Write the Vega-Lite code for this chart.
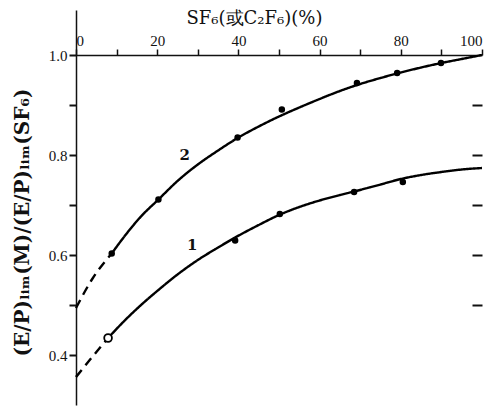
{
  "$schema": "https://vega.github.io/schema/vega-lite/v6.json",
  "width": 406,
  "height": 395,
  "autosize": {"type": "none"},
  "padding": {"left": 76, "top": 10, "right": 4, "bottom": 9},
  "background": "white",
  "config": {
    "view": {"stroke": null},
    "axis": {"grid": false, "labelFont": "Liberation Serif", "titleFont": "DejaVu Serif", "labelColor": "#111", "titleColor": "#111", "domainColor": "#111", "tickColor": "#111"}
  },
  "datasets": {
    "curves": [
      {"curve": "2", "style": "dash", "x": 0, "y": 0.494},
      {"curve": "2", "style": "dash", "x": 4, "y": 0.552},
      {"curve": "2", "style": "dash", "x": 8.8, "y": 0.603},
      {"curve": "2", "style": "solid", "x": 8.8, "y": 0.603},
      {"curve": "2", "style": "solid", "x": 12, "y": 0.638},
      {"curve": "2", "style": "solid", "x": 16, "y": 0.677},
      {"curve": "2", "style": "solid", "x": 20.3, "y": 0.711},
      {"curve": "2", "style": "solid", "x": 25, "y": 0.748},
      {"curve": "2", "style": "solid", "x": 30, "y": 0.781},
      {"curve": "2", "style": "solid", "x": 35, "y": 0.809},
      {"curve": "2", "style": "solid", "x": 39.8, "y": 0.834},
      {"curve": "2", "style": "solid", "x": 45, "y": 0.857},
      {"curve": "2", "style": "solid", "x": 50, "y": 0.877},
      {"curve": "2", "style": "solid", "x": 55, "y": 0.895},
      {"curve": "2", "style": "solid", "x": 60, "y": 0.912},
      {"curve": "2", "style": "solid", "x": 65, "y": 0.928},
      {"curve": "2", "style": "solid", "x": 70, "y": 0.942},
      {"curve": "2", "style": "solid", "x": 75, "y": 0.954},
      {"curve": "2", "style": "solid", "x": 80, "y": 0.965},
      {"curve": "2", "style": "solid", "x": 85, "y": 0.975},
      {"curve": "2", "style": "solid", "x": 90, "y": 0.984},
      {"curve": "2", "style": "solid", "x": 95, "y": 0.992},
      {"curve": "2", "style": "solid", "x": 100, "y": 1.0},
      {"curve": "1", "style": "dash", "x": 0, "y": 0.356},
      {"curve": "1", "style": "dash", "x": 4, "y": 0.396},
      {"curve": "1", "style": "dash", "x": 7.9, "y": 0.434},
      {"curve": "1", "style": "solid", "x": 7.9, "y": 0.434},
      {"curve": "1", "style": "solid", "x": 12, "y": 0.469},
      {"curve": "1", "style": "solid", "x": 17.4, "y": 0.51},
      {"curve": "1", "style": "solid", "x": 20, "y": 0.528},
      {"curve": "1", "style": "solid", "x": 25, "y": 0.561},
      {"curve": "1", "style": "solid", "x": 30, "y": 0.59},
      {"curve": "1", "style": "solid", "x": 35, "y": 0.615},
      {"curve": "1", "style": "solid", "x": 39.2, "y": 0.635},
      {"curve": "1", "style": "solid", "x": 45, "y": 0.66},
      {"curve": "1", "style": "solid", "x": 50, "y": 0.68},
      {"curve": "1", "style": "solid", "x": 55, "y": 0.696},
      {"curve": "1", "style": "solid", "x": 60, "y": 0.709},
      {"curve": "1", "style": "solid", "x": 65, "y": 0.72},
      {"curve": "1", "style": "solid", "x": 68.5, "y": 0.727},
      {"curve": "1", "style": "solid", "x": 75, "y": 0.741},
      {"curve": "1", "style": "solid", "x": 80, "y": 0.752},
      {"curve": "1", "style": "solid", "x": 85, "y": 0.76},
      {"curve": "1", "style": "solid", "x": 90, "y": 0.766},
      {"curve": "1", "style": "solid", "x": 95, "y": 0.771},
      {"curve": "1", "style": "solid", "x": 100, "y": 0.774}
    ],
    "points": [
      {"curve": "2", "marker": "dot", "x": 8.8, "y": 0.603},
      {"curve": "2", "marker": "dot", "x": 20.3, "y": 0.711},
      {"curve": "2", "marker": "dot", "x": 39.8, "y": 0.835},
      {"curve": "2", "marker": "dot", "x": 50.7, "y": 0.891},
      {"curve": "2", "marker": "dot", "x": 69.2, "y": 0.944},
      {"curve": "2", "marker": "dot", "x": 79.1, "y": 0.964},
      {"curve": "2", "marker": "dot", "x": 89.9, "y": 0.984},
      {"curve": "1", "marker": "open", "x": 7.9, "y": 0.434},
      {"curve": "1", "marker": "dot", "x": 39.2, "y": 0.629},
      {"curve": "1", "marker": "dot", "x": 50.2, "y": 0.682},
      {"curve": "1", "marker": "dot", "x": 68.5, "y": 0.726},
      {"curve": "1", "marker": "dot", "x": 80.5, "y": 0.746}
    ],
    "labels": [
      {"label": "2", "x": 26.8, "y": 0.8},
      {"label": "1", "x": 28.6, "y": 0.62}
    ]
  },
  "layer": [
    {
      "data": {"name": "curves"},
      "mark": {"type": "line", "color": "black", "strokeWidth": 2.4, "interpolate": "monotone"},
      "encoding": {
        "x": {
          "field": "x",
          "type": "quantitative",
          "scale": {"domain": [0, 100], "nice": false, "zero": false},
          "axis": {
            "orient": "top",
            "offset": -45,
            "values": [0, 10, 20, 30, 40, 50, 60, 70, 80, 90, 100],
            "labelExpr": "datum.value % 20 == 0 ? datum.label : ''",
            "labelFlush": true,
            "tickSize": 6,
            "tickWidth": 1.5,
            "domainWidth": 1.5,
            "labelFontSize": 15,
            "labelPadding": 1,
            "title": "SF₆(或C₂F₆)(%)",
            "titleFontSize": 18,
            "titleFontWeight": "normal",
            "titleX": 178,
            "titleY": -37,
            "titleBaseline": "middle"
          }
        },
        "y": {
          "field": "y",
          "type": "quantitative",
          "scale": {"domain": [0.3, 1.09], "nice": false, "zero": false},
          "axis": {
            "orient": "left",
            "values": [0.4, 0.5, 0.6, 0.7, 0.8, 0.9, 1.0],
            "labelExpr": "round(datum.value * 10) % 2 == 0 ? format(datum.value, '.1f') : ''",
            "tickSize": 7,
            "tickWidth": 2,
            "domainWidth": 1.5,
            "labelFontSize": 15,
            "labelPadding": 2,
            "title": "(E/P)ₗᵢₘ(M)/(E/P)ₗᵢₘ(SF₆)",
            "titleFontSize": 20,
            "titleFontWeight": "bold",
            "titleAngle": -90,
            "titleX": -54,
            "titleY": 212,
            "titleAlign": "center",
            "titleBaseline": "middle"
          }
        },
        "detail": [{"field": "curve"}, {"field": "style"}],
        "strokeDash": {
          "field": "style",
          "type": "nominal",
          "scale": {"domain": ["solid", "dash"], "range": [[1, 0], [9, 6]]},
          "legend": null
        }
      }
    },
    {
      "mark": {"type": "rule", "color": "black", "strokeWidth": 1.5},
      "encoding": {
        "x": {"datum": 100, "type": "quantitative"},
        "y": {
          "datum": 0.3,
          "type": "quantitative",
          "axis": {
            "orient": "right",
            "values": [0.5, 0.6, 0.7, 0.8, 0.9],
            "labels": false,
            "domain": false,
            "tickSize": -10,
            "tickWidth": 2,
            "title": null
          }
        },
        "y2": {"datum": 0.774}
      }
    },
    {
      "data": {"name": "points"},
      "mark": {"type": "point", "shape": "circle", "filled": false, "strokeWidth": 1.8, "opacity": 1, "stroke": "black"},
      "encoding": {
        "x": {"field": "x", "type": "quantitative"},
        "y": {"field": "y", "type": "quantitative", "axis": null},
        "fill": {
          "field": "marker",
          "type": "nominal",
          "scale": {"domain": ["dot", "open"], "range": ["black", "white"]},
          "legend": null
        },
        "size": {
          "field": "marker",
          "type": "nominal",
          "scale": {"domain": ["dot", "open"], "range": [22, 60]},
          "legend": null
        }
      }
    },
    {
      "data": {"name": "labels"},
      "mark": {"type": "text", "font": "DejaVu Serif", "fontSize": 15, "fontWeight": "bold", "color": "#111"},
      "encoding": {
        "x": {"field": "x", "type": "quantitative"},
        "y": {"field": "y", "type": "quantitative", "axis": null},
        "text": {"field": "label"}
      }
    }
  ],
  "resolve": {"axis": {"y": "independent"}}
}
